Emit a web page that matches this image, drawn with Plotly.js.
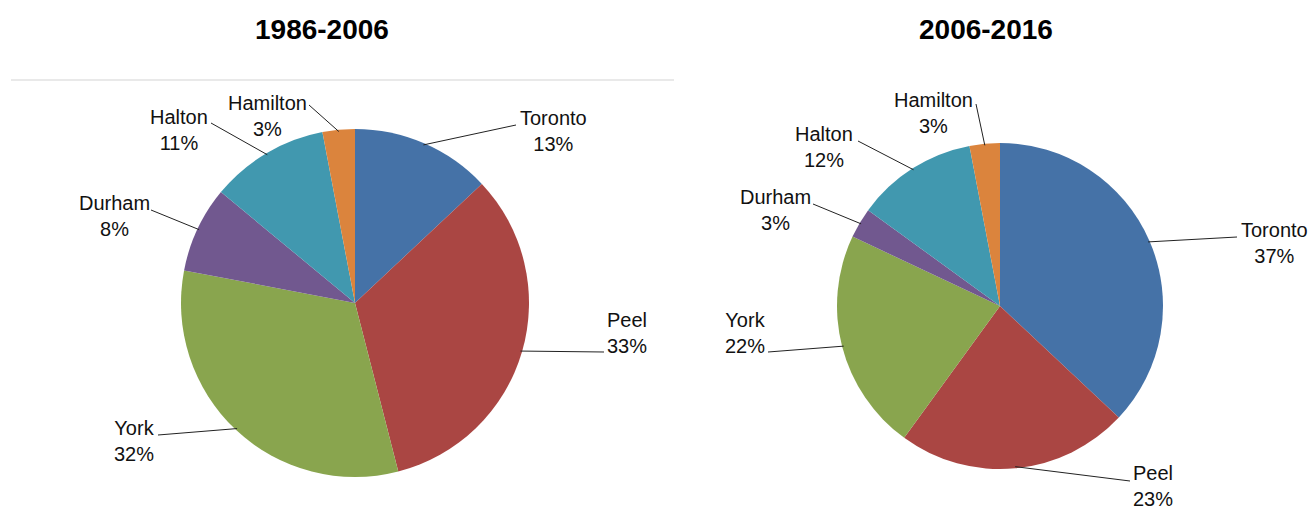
<!DOCTYPE html>
<html>
<head>
<meta charset="utf-8">
<script src="https://cdn.plot.ly/plotly-3.0.1.min.js"></script>
<style>
  html, body { margin: 0; padding: 0; background: #ffffff; }
  #chart { width: 1314px; height: 517px; }
</style>
</head>
<body>
<div id="chart"></div>
<script>
// ---- data ----
const categories = ['Toronto', 'Peel', 'York', 'Durham', 'Halton', 'Hamilton'];
const share_1986_2006 = [13, 33, 32, 8, 11, 3];
const share_2006_2016 = [37, 23, 22, 3, 12, 3];
const periodTitles = ['1986-2006', '2006-2016'];
const sliceColors = ['#4572A7', '#AA4643', '#89A54E', '#71588F', '#4198AF', '#DB843D'];

// ---- layout (pixels) ----
const W = 1314, H = 517;
const FONT = 'Liberation Sans, Arial, Helvetica, sans-serif';
const pieGeom = [
  { cx: 355, cy: 303, r: 174, titleX: 322, titleY: 30,
    labelCenter: [[553,131],[627,333],[134,441],[114,216],[179,130],[267,116]],
    lineEnd:     [[516,125],[604,352],[158,435],[151,210],[211,123],[309,105]] },
  { cx: 1000, cy: 306, r: 163, titleX: 986, titleY: 30,
    labelCenter: [[1274,243],[1153,486],[745,333],[775,210],[824,147],[933,113]],
    lineEnd:     [[1237,237],[1130,481],[768,352],[813,204],[858,141],[976,104]] }
];
const seriesList = [share_1986_2006, share_2006_2016];

const px = x => x / W;
const py = y => 1 - y / H;

const traces = [];
const annotations = [];
const shapes = [];

seriesList.forEach((vals, k) => {
  const g = pieGeom[k];
  traces.push({
    type: 'pie',
    labels: categories,
    values: vals,
    sort: false,
    direction: 'clockwise',
    rotation: 0,
    textinfo: 'none',
    textposition: 'none',
    hoverinfo: 'label+percent',
    marker: { colors: sliceColors, line: { width: 0 } },
    showlegend: false,
    domain: {
      x: [px(g.cx - g.r), px(g.cx + g.r)],
      y: [py(g.cy + g.r), py(g.cy - g.r)]
    }
  });

  annotations.push({
    text: '<b>' + periodTitles[k] + '</b>',
    x: px(g.titleX), y: py(g.titleY), xref: 'paper', yref: 'paper',
    xanchor: 'center', yanchor: 'middle', showarrow: false,
    font: { family: FONT, size: 28, color: '#000000' }
  });

  const total = vals.reduce((a, b) => a + b, 0);
  let cum = 0;
  vals.forEach((v, i) => {
    const mid = (cum + v / 2) / total * 2 * Math.PI;
    cum += v;
    const tipX = g.cx + g.r * 0.99 * Math.sin(mid);
    const tipY = g.cy - g.r * 0.99 * Math.cos(mid);
    const pct = Math.round(v / total * 100) + '%';
    const lc = g.labelCenter[i];
    const le = g.lineEnd[i];
    annotations.push({
      text: categories[i] + '<br>' + pct,
      x: px(lc[0]), y: py(lc[1]), xref: 'paper', yref: 'paper',
      xanchor: 'center', yanchor: 'middle', showarrow: false, align: 'center',
      font: { family: FONT, size: 20, color: '#111111' }
    });
    shapes.push({
      type: 'line', xref: 'paper', yref: 'paper',
      x0: px(le[0]), y0: py(le[1]), x1: px(tipX), y1: py(tipY),
      line: { color: '#222222', width: 1 }
    });
  });
});

// faint frame line above the first chart
shapes.push({
  type: 'line', xref: 'paper', yref: 'paper',
  x0: px(11), y0: py(80), x1: px(674), y1: py(80),
  line: { color: '#e2e2e2', width: 1.5 }
});

const layout = {
  width: W, height: H,
  margin: { l: 0, r: 0, t: 0, b: 0, pad: 0 },
  paper_bgcolor: '#ffffff',
  plot_bgcolor: '#ffffff',
  font: { family: FONT },
  annotations: annotations,
  shapes: shapes,
  showlegend: false
};

Plotly.newPlot('chart', traces, layout, { displayModeBar: false, staticPlot: true });
</script>
</body>
</html>
